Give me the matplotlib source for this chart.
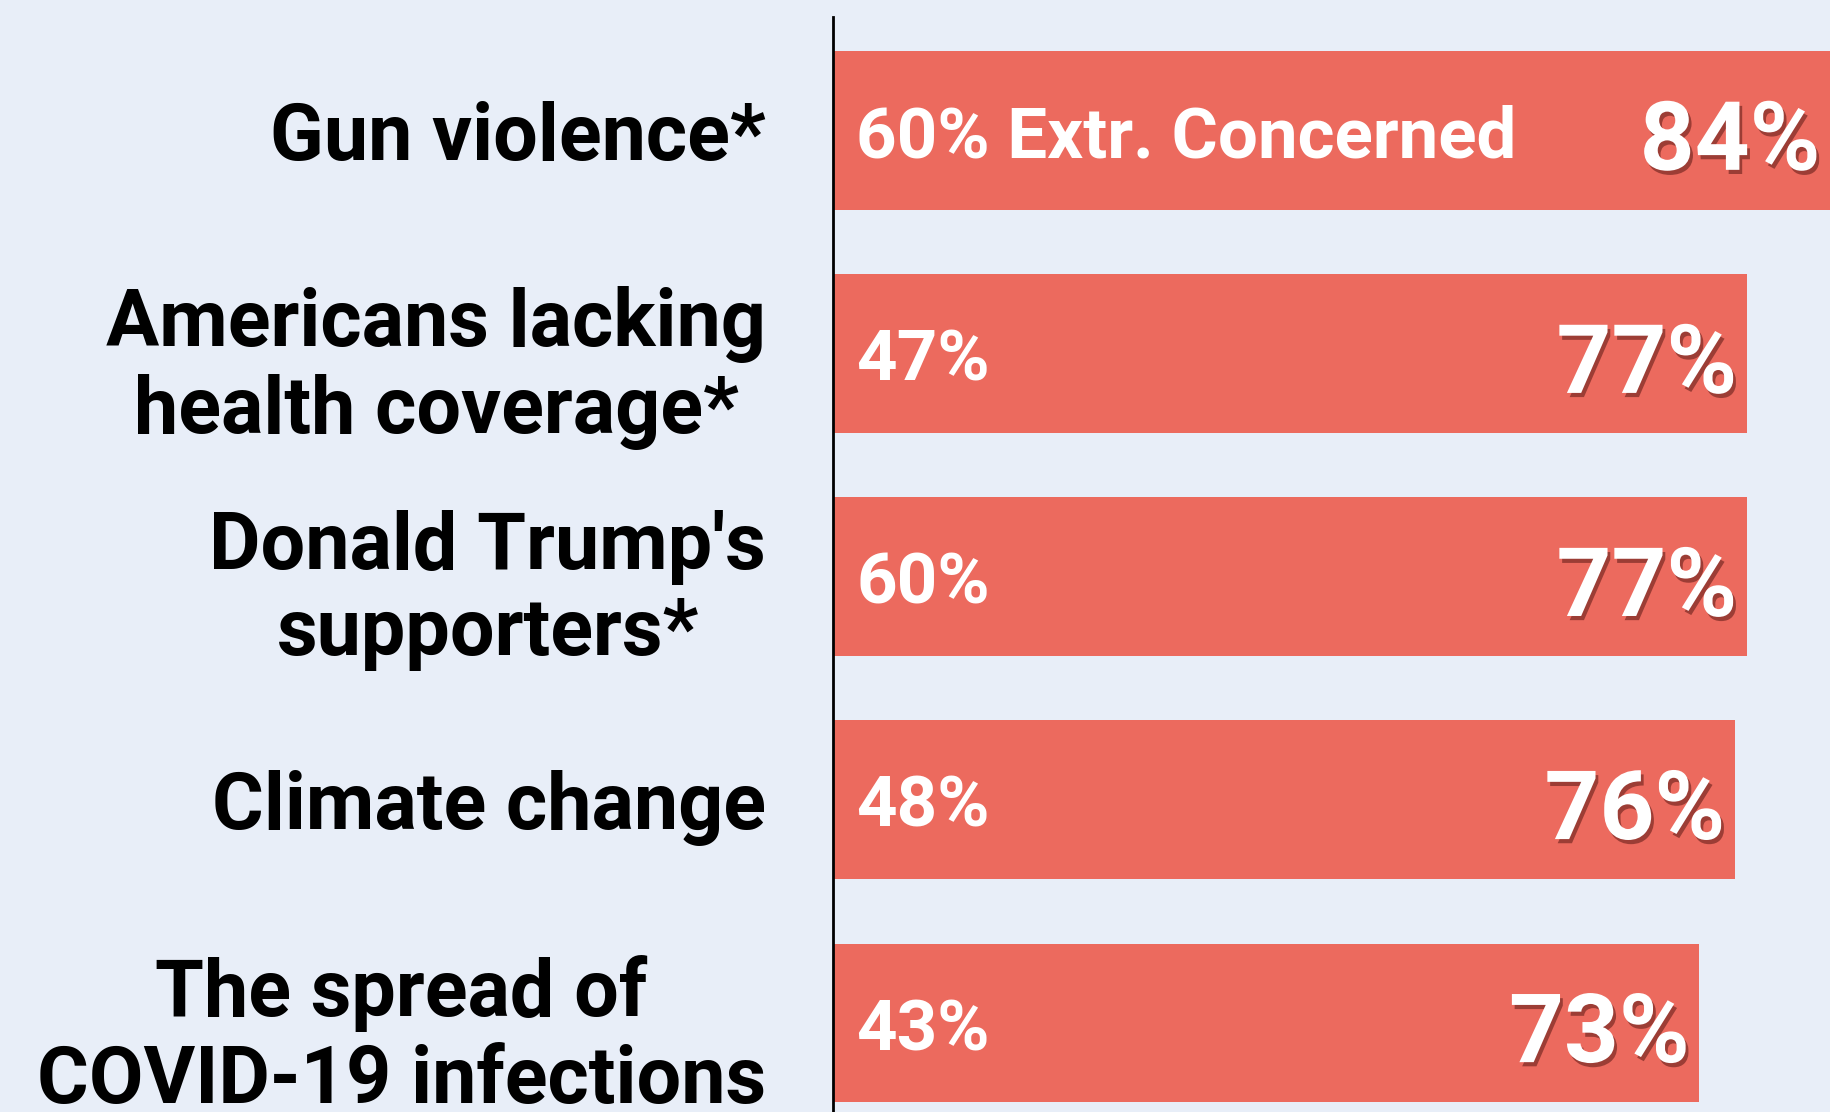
import matplotlib.pyplot as plt
import matplotlib.patheffects as pe

# Datos del grafico
temas = ["Gun violence*", "Americans lacking\nhealth coverage*", "Donald Trump's\nsupporters*",
         "Climate change", "The spread of\nCOVID-19 infections"]
total = [84, 77, 77, 76, 73]
extremo = [60, 47, 60, 48, 43]
etiqueta_ext = ["60% Extr. Concerned", "47%", "60%", "48%", "43%"]

fondo = '#E8EEF8'
rojo = '#EC6A5E'
fuente = 'Roboto'

fig = plt.figure(figsize=(18.3, 11.12), dpi=100)
fig.patch.set_facecolor(fondo)
ax = fig.add_axes([0.455, 0, 0.545, 0.985])
ax.set_facecolor(fondo)

pos = list(range(len(temas)))
ax.barh(pos, total, height=0.71, color=rojo)
ax.set_xlim(0, 84)
ax.set_ylim(4.40, -0.51)

for s in ['top', 'right', 'bottom']:
    ax.spines[s].set_visible(False)
ax.spines['left'].set_linewidth(2)
ax.set_xticks([])
ax.set_yticks(pos)
ax.set_yticklabels(temas, fontsize=57, fontweight='bold', family=fuente,
                   multialignment='center', linespacing=1.2)
ax.tick_params(axis='y', length=0, pad=48)

sombra = [pe.withSimplePatchShadow(offset=(2, -3), shadow_rgbFace='#7a2a24', alpha=0.7)]
for i in pos:
    # porcentaje de extremadamente preocupados
    ax.text(2.0, i + 0.035, etiqueta_ext[i], ha='left', va='center', color='white',
            fontsize=51, fontweight='bold', family=fuente)
    # porcentaje total
    ax.text(total[i] - 0.8, i + 0.06, f"{total[i]}%", ha='right', va='center', color='white',
            fontsize=69, fontweight='bold', family=fuente, path_effects=sombra)

plt.savefig('out.png', dpi=100, facecolor=fondo)
